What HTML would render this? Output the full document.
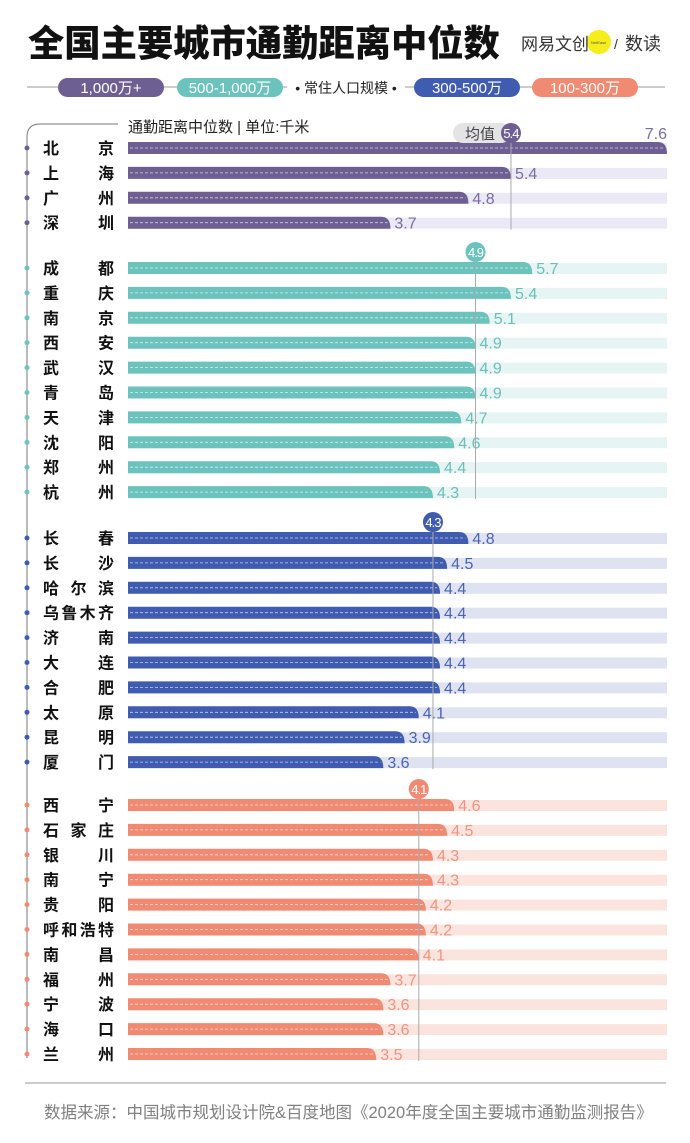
<!DOCTYPE html>
<html><head><meta charset="utf-8">
<style>
body{margin:0;background:#fff;}
svg{display:block;font-family:"Liberation Sans","Noto Sans CJK SC",sans-serif;}
</style></head>
<body>
<svg id="chart" width="690" height="1143" viewBox="0 0 690 1143" xmlns="http://www.w3.org/2000/svg">
<text x="28" y="56" font-size="36.3" font-weight="900" fill="#111" font-family="Noto Sans CJK SC, sans-serif">全国主要城市通勤距离中位数</text>
<g>
<circle cx="599" cy="42" r="12" fill="#f6ee1a"/>
<text x="521" y="50" font-size="17" fill="#333" font-family="Noto Sans CJK SC, sans-serif">网易文创</text>
<text x="591" y="44" font-size="4" fill="#555">NetEase</text>
<text x="614" y="49" font-size="14" fill="#333">/</text>
<text x="625" y="50" font-size="18" fill="#333" font-family="Noto Sans CJK SC, sans-serif">数读</text>
</g>
<g>
<line x1="27" y1="87" x2="665" y2="87" stroke="#999" stroke-width="1"/>
<rect x="58" y="78" width="106" height="19" rx="9.5" fill="#6e5f93"/>
<text x="111" y="93" text-anchor="middle" font-size="15" fill="#fff">1,000万+</text>
<rect x="177" y="78" width="106" height="19" rx="9.5" fill="#6cc3bd"/>
<text x="230" y="93" text-anchor="middle" font-size="15" fill="#fff">500-1,000万</text>
<rect x="287" y="79" width="118" height="17" fill="#fff"/>
<text x="346" y="93" text-anchor="middle" font-size="14" fill="#222">• 常住人口规模 •</text>
<rect x="414" y="78" width="106" height="19" rx="9.5" fill="#3f5cb0"/>
<text x="467" y="93" text-anchor="middle" font-size="15" fill="#fff">300-500万</text>
<rect x="532" y="78" width="106" height="19" rx="9.5" fill="#f08a72"/>
<text x="585" y="93" text-anchor="middle" font-size="15" fill="#fff">100-300万</text>
</g>
<path d="M118 124 H40 Q27 124 27 137 V1058" fill="none" stroke="#777" stroke-width="1"/>
<text x="128" y="132" font-size="15" fill="#222">通勤距离中位数 | 单位:千米</text>
<g id="marks"></g>
<line x1="25" y1="1083" x2="666" y2="1083" stroke="#999"/>
<text x="44" y="1118" font-size="16.5" fill="#808080">数据来源：中国城市规划设计院&amp;百度地图《2020年度全国主要城市通勤监测报告》</text>
</svg>
<script>
const groupNames=["1000万+","500-1000万","300-500万","100-300万"];
const cities1=["北京","上海","广州","深圳"];
const values1=[7.6,5.4,4.8,3.7];
const cities2=["成都","重庆","南京","西安","武汉","青岛","天津","沈阳","郑州","杭州"];
const values2=[5.7,5.4,5.1,4.9,4.9,4.9,4.7,4.6,4.4,4.3];
const cities3=["长春","长沙","哈尔滨","乌鲁木齐","济南","大连","合肥","太原","昆明","厦门"];
const values3=[4.8,4.5,4.4,4.4,4.4,4.4,4.4,4.1,3.9,3.6];
const cities4=["西宁","石家庄","银川","南宁","贵阳","呼和浩特","南昌","福州","宁波","海口","兰州"];
const values4=[4.6,4.5,4.3,4.3,4.2,4.2,4.1,3.7,3.6,3.6,3.5];
const averages=[5.4,4.9,4.3,4.1];

const groups=[[cities1,values1],[cities2,values2],[cities3,values3],[cities4,values4]];
const colors=["#6e5f93","#6cc3bd","#3f5cb0","#f08a72"];
const labelColors=["#7a6c9c","#6cc0b9","#4a64b3","#f0957f"];
const tracks=["#ecE9f6","#e6f4f3","#dfe3f1","#fbe4de"];
const starts=[148,268,538,805];
const step=24.9;
const x0=128, maxV=7.6, x1=667;
const xs=v=>x0+(x1-x0)*v/maxV;
const NS="http://www.w3.org/2000/svg";
const g=document.getElementById('marks');
function mk(t,a){const e=document.createElementNS(NS,t);for(const k in a)e.setAttribute(k,a[k]);g.appendChild(e);return e;}
groups.forEach((grp,gi)=>{
  const [cs,vs]=grp;
  const c=colors[gi];
  const yLast=starts[gi]+(cs.length-1)*step;
  const ax=xs(averages[gi]);
  cs.forEach((name,i)=>{
    const y=starts[gi]+i*step;
    const tr=mk('rect',{x:x0,y:y-5,width:x1-x0,height:11,fill:tracks[gi]});
    
    
    const bx=xs(vs[i]);
    const bar=mk('path',{d:`M${x0} ${y+6} V${y-6} H${bx-9} Q${bx} ${y-6} ${bx} ${y+6} Z`,fill:c});
    
    
    const dl=mk('line',{x1:x0+2,y1:y,x2:bx-3,y2:y,stroke:'#fff','stroke-width':0.8,'stroke-dasharray':'3 2',opacity:0.7});
    
    
    const lbl=mk('text',{x:(i===0&&gi===0)?x1:bx+4,y:(i===0&&gi===0)?y-9:y+6,'font-size':16,fill:labelColors[gi],'text-anchor':(i===0&&gi===0)?'end':'start'});
    lbl.textContent=vs[i].toFixed(1);
    
    
    const dot=mk('circle',{cx:27,cy:y,r:2.5,fill:c});
    
    
    const chars=[...name];
    const L=43,R=114,fs=16;
    chars.forEach((ch,k)=>{
      let cx;
      if(chars.length===1)cx=L+fs/2;else cx=L+fs/2+(R-L-fs)*k/(chars.length-1);
      const t=mk('text',{x:cx,y:y+6,'font-size':fs,'font-weight':'bold',fill:'#111','text-anchor':'middle'});
      t.textContent=ch;
      
      
    });
  });
  const topY=gi===0?140:starts[gi]-16;
  const al=mk('line',{x1:ax,y1:topY,x2:ax,y2:yLast+7,stroke:'#aaa','stroke-width':1});
  
  
  if(gi===0){
    const p=mk('rect',{x:ax-58,y:topY-17,width:58,height:20,rx:10,fill:'#e4e4e4'});
    
    
    const t=mk('text',{x:ax-46,y:topY-1,'font-size':15,fill:'#444'});
    t.textContent='均值';
    
    
  }
  const by=gi===0?topY-7:starts[gi]-16;
  const bc=mk('circle',{cx:ax,cy:by,r:10,fill:c});
  
  
  const bt=mk('text',{x:ax,y:by+5,'font-size':13,fill:'#fff','text-anchor':'middle','letter-spacing':'-1'});
  bt.textContent=averages[gi].toFixed(1);
  
  
});
</script>
</body></html>
